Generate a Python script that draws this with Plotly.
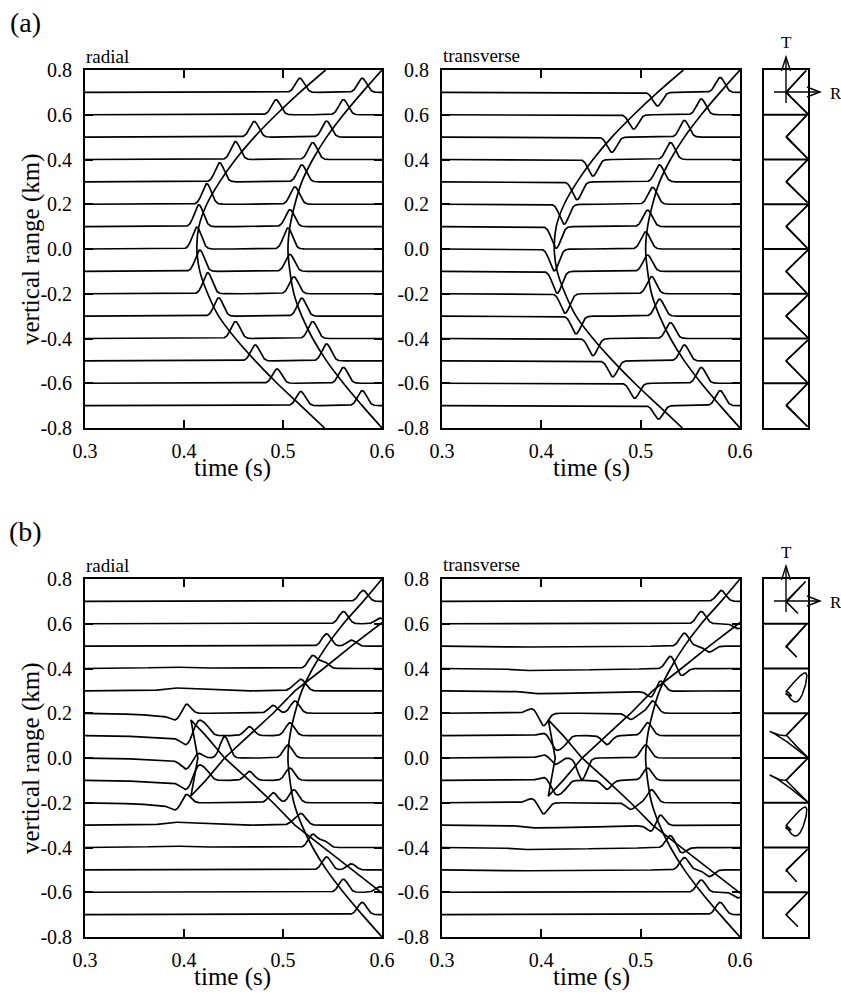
import numpy as np
import plotly.graph_objects as go

W, H = 841, 996
NAN = float("nan")

# ---------------------------------------------------------------- geometry
ranges = [0.7, 0.6, 0.5, 0.4, 0.3, 0.2, 0.1, 0.0, -0.1, -0.2, -0.3, -0.4, -0.5, -0.6, -0.7]
curve_z = [0.8, 0.7, 0.6, 0.5, 0.4, 0.3, 0.2, 0.1, 0.0, -0.1, -0.2, -0.3, -0.4, -0.5, -0.6, -0.7, -0.8]
pm_ranges = [0.7, 0.5, 0.3, 0.1, -0.1, -0.3, -0.5, -0.7]

range_tickvals = [0.8, 0.6, 0.4, 0.2, 0.0, -0.2, -0.4, -0.6, -0.8]
range_ticktext = ["0.8", "0.6", "0.4", "0.2", "0.0", "-0.2", "-0.4", "-0.6", "-0.8"]
time_tickvals = [0.3, 0.4, 0.5, 0.6]
time_ticktext = ["0.3", "0.4", "0.5", "0.6"]

# ---------------------------------------------------------------- (a) arrivals
# travel-time curves, one value per curve_z level (s)
a_first_t = [0.543, 0.517, 0.493, 0.471, 0.452, 0.436, 0.423, 0.415, 0.413,
             0.416, 0.424, 0.435, 0.452, 0.472, 0.494, 0.518, 0.542]
a_second_t = [0.600, 0.580, 0.561, 0.544, 0.530, 0.519, 0.512, 0.507, 0.505,
              0.507, 0.511, 0.519, 0.530, 0.544, 0.561, 0.580, 0.600]
# pulse amplitudes per trace (km of trace offset)
a_rad_first_amp = [0.063, 0.067, 0.070, 0.080, 0.085, 0.092, 0.098, 0.098,
                   0.095, 0.094, 0.082, 0.076, 0.071, 0.064, 0.063]
a_rad_second_amp = [0.063, 0.068, 0.072, 0.076, 0.076, 0.078, 0.076, 0.094,
                    0.076, 0.076, 0.080, 0.076, 0.076, 0.071, 0.067]
a_trn_first_amp = [-0.061, -0.064, -0.068, -0.074, -0.080, -0.089, -0.097, -0.098,
                   -0.098, -0.087, -0.079, -0.077, -0.071, -0.067, -0.060]
a_trn_second_amp = [0.067, 0.071, 0.075, 0.076, 0.076, 0.076, 0.074, 0.077,
                    0.073, 0.077, 0.076, 0.071, 0.071, 0.071, 0.067]

# ---------------------------------------------------------------- (b) arrivals
b_second_t = [0.600, 0.581, 0.561, 0.544, 0.530, 0.519, 0.512, 0.507, 0.505,
              0.507, 0.511, 0.519, 0.530, 0.544, 0.561, 0.580, 0.600]
# triplicated branch: upgoing / downgoing limbs per trace, cusps and caustic
b_up_t = [0.628, 0.598, 0.569, 0.541, 0.512, 0.490, 0.466, 0.441, 0.422,
          NAN, NAN, NAN, NAN, NAN, NAN]
b_down_t = [NAN, NAN, NAN, NAN, NAN, NAN, 0.422, 0.441, 0.466,
            0.490, 0.512, 0.541, 0.569, 0.598, 0.628]
b_cusp_z = [-0.17, 0.0, 0.17]
b_cusp_t = [0.407, 0.414, 0.407]
b_cau_t = [NAN, NAN, NAN, NAN, NAN, 0.402, 0.414, 0.414, 0.414, 0.402,
           NAN, NAN, NAN, NAN, NAN]

b_rad = dict(
    second=[0.049, 0.055, 0.055, 0.057, 0.045, 0.055, 0.057, 0.058,
            0.055, 0.058, 0.045, 0.058, 0.058, 0.058, 0.055],
    up=[0.030, 0.025, 0.027, 0.030, 0.020, 0.035, 0.040, 0.048,
        0.040, 0, 0, 0, 0, 0, 0],
    down=[0, 0, 0, 0, 0, 0, 0.040, 0.048, 0.040,
          0.045, 0.020, 0.030, 0.027, 0.025, 0.030],
    cau=[0, 0, 0, 0, 0, 0.045, 0.060, 0.025, 0.060, 0.042, 0, 0, 0, 0, 0],
    cau_pre=[0, 0, 0, 0, 0, -0.020, -0.032, -0.040, -0.032, -0.022, 0, 0, 0, 0, 0],
    broad=[0, 0, 0.003, 0.006, 0.013, -0.012, -0.012, -0.012, -0.012, -0.012,
           0.013, 0.006, 0.003, 0, 0],
    broad_t=[NAN, NAN, 0.385, 0.385, 0.389, 0.395, 0.400, 0.400, 0.400, 0.395,
             0.389, 0.385, 0.385, NAN, NAN],
    broad_wl=[0.02, 0.02, 0.02, 0.02, 0.010, 0.035, 0.035, 0.035, 0.035, 0.035,
              0.010, 0.02, 0.02, 0.02, 0.02],
    broad_wr=[0.03, 0.03, 0.03, 0.03, 0.025, 0.004, 0.004, 0.004, 0.004, 0.004,
              0.025, 0.03, 0.03, 0.03, 0.03],
)
b_trn = dict(
    second=[0.049, 0.055, 0.058, 0.057, 0.055, 0.055, 0.058, 0.058,
            0.055, 0.058, 0.055, 0.055, 0.055, 0.055, 0.055],
    up=[-0.030, -0.022, -0.027, -0.033, -0.035, -0.028, -0.040, -0.048,
        -0.040, 0, 0, 0, 0, 0, 0],
    down=[0, 0, 0, 0, 0, 0, -0.040, -0.048, -0.040,
          -0.030, -0.035, -0.025, -0.030, -0.025, -0.030],
    cau=[0, 0, 0, 0, 0, -0.058, -0.055, -0.030, -0.055, -0.052, 0, 0, 0, 0, 0],
    cau_pre=[0, 0, 0, 0, 0, 0.022, 0.012, 0.015, 0.015, 0.020, 0, 0, 0, 0, 0],
    broad=[0, 0, -0.004, -0.009, -0.012, 0, 0, 0, 0, 0,
           -0.012, -0.009, -0.004, 0, 0],
    broad_t=[NAN, NAN, 0.370, 0.380, 0.392, NAN, NAN, NAN, NAN, NAN,
             0.389, 0.379, 0.370, NAN, NAN],
    broad_wl=[0.01] * 15,
    broad_wr=[0.07] * 15,
)

# ---------------------------------------------------------------- waveforms
SIG = 0.0045        # main pulse width (s)
PRE_SIG = 0.0055    # side-lobe width (s)
PRE_LAG = 0.011     # side-lobe lead (s)
A_PM_SCALE = 0.063  # particle-motion half-box amplitude
B_PM_SCALE = 0.055

t_plot = np.linspace(0.3, 0.6, 1201)
t_pm = np.linspace(0.3, 0.7, 3201)


def gauss(t, t0, amp, sig=SIG):
    if amp == 0 or np.isnan(t0):
        return np.zeros_like(t)
    return amp * np.exp(-0.5 * ((t - t0) / sig) ** 2)


def skewed(t, t0, amp, wl, wr):
    if amp == 0 or np.isnan(t0):
        return np.zeros_like(t)
    s = np.where(t < t0, wl, wr)
    return amp * np.exp(-0.5 * ((t - t0) / s) ** 2)


def seis_a(t, i, first_amp, second_amp):
    return gauss(t, a_first_t[i + 1], first_amp[i]) + gauss(t, a_second_t[i + 1], second_amp[i])


def seis_b(t, i, c):
    y = gauss(t, b_second_t[i + 1], c["second"][i])
    y = y + gauss(t, b_up_t[i], c["up"][i])
    y = y + gauss(t, b_down_t[i], c["down"][i])
    y = y + gauss(t, b_cau_t[i], c["cau"][i])
    y = y + gauss(t, b_cau_t[i] - PRE_LAG, c["cau_pre"][i], PRE_SIG)
    y = y + skewed(t, c["broad_t"][i], c["broad"][i], c["broad_wl"][i], c["broad_wr"][i])
    return y


def section(waves):
    xs, ys = [], []
    for z, w in zip(ranges, waves):
        xs += [t_plot, [NAN]]
        ys += [z + w, [NAN]]
    return np.concatenate(xs), np.concatenate(ys)


a_rad_w = [seis_a(t_plot, i, a_rad_first_amp, a_rad_second_amp) for i in range(15)]
a_trn_w = [seis_a(t_plot, i, a_trn_first_amp, a_trn_second_amp) for i in range(15)]
b_rad_w = [seis_b(t_plot, i, b_rad) for i in range(15)]
b_trn_w = [seis_b(t_plot, i, b_trn) for i in range(15)]

# triplication curve: upgoing limb (top to bottom), caustic, downgoing limb
up_pts = sorted([(z, t) for z, t in zip(ranges, b_up_t) if not np.isnan(t)], reverse=True)
down_pts = sorted([(z, t) for z, t in zip(ranges, b_down_t) if not np.isnan(t)], reverse=True)
trip_z = [p[0] for p in up_pts] + b_cusp_z + [p[0] for p in down_pts]
trip_t = [p[1] for p in up_pts] + b_cusp_t + [p[1] for p in down_pts]

# ---------------------------------------------------------------- layout frame
ROW_TOP = {"a": 70, "b": 579}
PANEL_H = 358
COLS = {"rad": (85, 382), "trn": (442, 740), "pm": (764, 808)}
FONT = "Liberation Serif"
LW = 1.7
FRAME_W = 1.9
NBOX = len(pm_ranges)


def fx(px):
    return px / W


def fy(py):
    return 1 - py / H


fig = go.Figure()
layout = dict(width=W, height=H, margin=dict(l=0, r=0, t=0, b=0, autoexpand=False),
              paper_bgcolor="white", plot_bgcolor="white", showlegend=False,
              font=dict(family=FONT, color="black"))
shapes = []
axis_n = [0]


def new_axes(xdom, ydom, panel):
    axis_n[0] += 1
    n = axis_n[0]
    xs = "x" if n == 1 else f"x{n}"
    ys = "y" if n == 1 else f"y{n}"
    xk = "xaxis" if n == 1 else f"xaxis{n}"
    yk = "yaxis" if n == 1 else f"yaxis{n}"
    base = dict(showline=True, linecolor="black", linewidth=FRAME_W, showgrid=False,
                zeroline=False, fixedrange=True, automargin=False)
    if panel:
        tick = dict(mirror="ticks", ticks="inside", ticklen=8, tickwidth=1.6,
                    tickcolor="black", tickfont=dict(family=FONT, size=20, color="black"))
        layout[xk] = dict(domain=[fx(xdom[0]), fx(xdom[1])], anchor=ys, range=[0.3, 0.6],
                          tickvals=time_tickvals, ticktext=time_ticktext,
                          ticklabelstandoff=4, **tick, **base)
        layout[yk] = dict(domain=[fy(ydom[1]), fy(ydom[0])], anchor=xs, range=[-0.8, 0.8],
                          tickvals=range_tickvals, ticktext=range_ticktext,
                          ticklabelstandoff=7, **tick, **base)
    else:
        common = dict(mirror=True, ticks="", showticklabels=False, **base)
        layout[xk] = dict(domain=[fx(xdom[0]), fx(xdom[1])], anchor=ys, range=[-1, 1], **common)
        layout[yk] = dict(domain=[fy(ydom[1]), fy(ydom[0])], anchor=xs,
                          range=[-NBOX, NBOX], **common)
    return xs, ys


def line(x, y, xa, ya, shape="linear", width=LW):
    fig.add_trace(go.Scatter(x=x, y=y, xaxis=xa, yaxis=ya, mode="lines",
                             line=dict(color="black", width=width, shape=shape),
                             hoverinfo="skip", connectgaps=False))


for row, rad_w, trn_w, rad_seis, trn_seis, scale in [
    ("a", a_rad_w, a_trn_w,
     lambda i: seis_a(t_pm, i, a_rad_first_amp, a_rad_second_amp),
     lambda i: seis_a(t_pm, i, a_trn_first_amp, a_trn_second_amp), A_PM_SCALE),
    ("b", b_rad_w, b_trn_w,
     lambda i: seis_b(t_pm, i, b_rad),
     lambda i: seis_b(t_pm, i, b_trn), B_PM_SCALE),
]:
    top = ROW_TOP[row]
    ydom = (top, top + PANEL_H)
    for comp, waves in [("rad", rad_w), ("trn", trn_w)]:
        xa, ya = new_axes(COLS[comp], ydom, True)
        sx, sy = section(waves)
        line(sx, sy, xa, ya)
        if row == "a":
            line(a_first_t, curve_z, xa, ya, shape="spline")
            line(a_second_t, curve_z, xa, ya, shape="spline")
        else:
            line(b_second_t, curve_z, xa, ya, shape="spline")
            line(trip_t, trip_z, xa, ya)

    # particle-motion column: radial (right) vs transverse (up), one box per trace
    xa, ya = new_axes(COLS["pm"], ydom, False)
    px_all, py_all = [], []
    for k, z in enumerate(pm_ranges):
        i = ranges.index(z)
        centre = NBOX - 1 - 2 * k
        r = rad_seis(i) / scale
        tr = trn_seis(i) / scale
        outside = (np.abs(r) > 0.985) | (np.abs(tr) > 0.985)
        r = np.where(outside, NAN, r)
        tr = np.where(outside, NAN, tr)
        px_all += [r, [NAN]]
        py_all += [centre + tr, [NAN]]
        if k > 0:
            shapes.append(dict(type="line", xref=f"{xa} domain", yref=ya,
                               x0=0, x1=1, y0=centre + 1, y1=centre + 1,
                               line=dict(color="black", width=FRAME_W)))
    line(np.concatenate(px_all), np.concatenate(py_all), xa, ya, width=1.5)

fig.update_layout(**layout)

# ---------------------------------------------------------------- labels
ann = []


def text(px, py, s, size, xanchor="center", **kw):
    ann.append(dict(x=fx(px), y=fy(py), xref="paper", yref="paper", text=s,
                    showarrow=False, xanchor=xanchor, yanchor="middle",
                    font=dict(family=FONT, size=size, color="black"), **kw))


for row, dy in [("a", 0), ("b", 509)]:
    text(25, 22 + dy, f"({row})", 28)
    text(84, 56 + dy, "radial", 19, xanchor="left")
    text(441, 55 + dy, "transverse", 19, xanchor="left")
    text(31, 249 + dy, "vertical range (km)", 25, textangle=-90)
    text(233, 468 + dy, "time (s)", 25)
    text(591, 468 + dy, "time (s)", 25)
    text(786, 43 + dy, "T", 17)
    text(836, 93 + dy, "R", 17)

# radial / transverse direction arrows on the top box of each column
for dy in (0, 509):
    cx, cy = 786, 92 + dy
    segs = [
        [(cx, cy + 11), (cx, cy - 35)],
        [(cx - 4.5, cy - 21), (cx, cy - 35), (cx + 4.5, cy - 21)],
        [(cx - 12, cy), (cx + 34, cy)],
        [(cx + 21, cy - 5), (cx + 34, cy), (cx + 21, cy + 5)],
    ]
    for seg in segs:
        path = "M " + " L ".join(f"{fx(px):.5f},{fy(py):.5f}" for px, py in seg)
        shapes.append(dict(type="path", path=path, xref="paper", yref="paper",
                           line=dict(color="black", width=1.4)))

fig.update_layout(annotations=ann, shapes=shapes)

fig.write_html("out.html")
